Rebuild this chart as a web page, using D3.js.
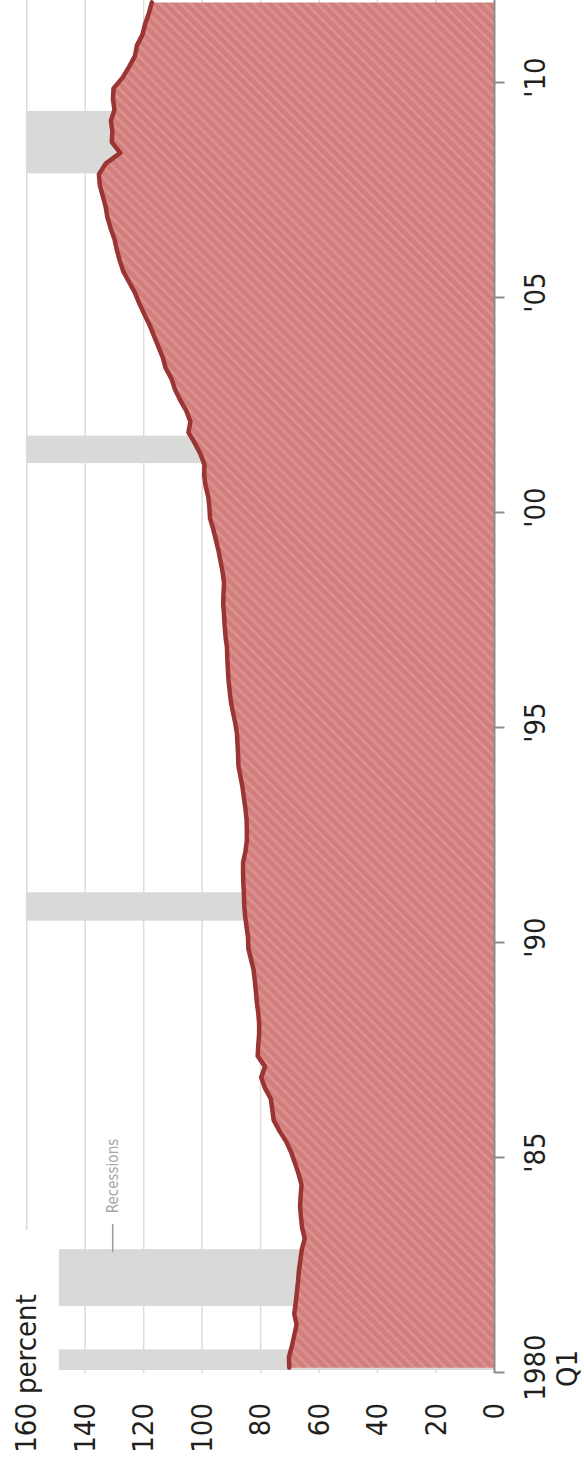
<!DOCTYPE html>
<html>
<head>
<meta charset="utf-8">
<script src="https://cdn.jsdelivr.net/npm/d3@7"></script>
<style>
  body { margin: 0; background: #fff; }
  text { font-family: "Liberation Sans Narrow", "DejaVu Sans Condensed", "Arial Narrow", sans-serif; }
</style>
</head>
<body>
<div id="chart"></div>
<script>
// Debt as a share of income, quarterly from 1980 Q1 to 2011 Q4 (percent)
const startYear = 1980;
const debtRatio = [
  70.2, 70.3, 69.3, 68.5,   67.7, 68.5, 68.0, 67.6,   67.2, 66.9, 66.4, 65.9,
  64.9, 65.8, 66.2, 66.5,   66.3, 66.0, 67.0, 68.2,   69.5, 71.2, 73.5, 75.5,
  76.0, 76.5, 78.5, 79.8,   78.5, 81.0, 80.8, 80.5,   80.5, 80.8, 81.3, 81.6,
  82.0, 82.4, 83.3, 84.2,   84.3, 84.8, 85.3, 85.6,   85.7, 85.9, 86.0, 86.0,
  85.2, 84.7, 84.7, 84.8,   85.2, 85.7, 86.2, 86.9,   87.6, 87.7, 87.9, 88.1,
  88.7, 89.5, 90.2, 90.6,   91.0, 91.2, 91.4, 91.5,   92.0, 92.3, 92.5, 92.8,
  92.7, 92.5, 93.0, 93.7,   94.4, 95.3, 96.2, 97.3,   97.5, 97.9, 98.8, 99.3,
  99.2, 100.6, 102.5, 104.7, 104.0, 105.4, 107.5, 109.3, 110.5, 112.5, 113.5, 115.0,
  116.5, 118.0, 119.8, 121.5, 123.0, 125.0, 127.0, 128.2, 129.2, 130.0, 131.3, 132.4,
  133.0, 134.0, 135.0, 135.3, 133.0, 128.0, 130.9, 130.7, 131.2, 130.0, 130.5, 130.3,
  127.2, 125.0, 123.0, 122.3, 120.4, 119.5, 118.2, 117.2
];

// recessions (decimal years)
const recessionStart = [1980.07, 1981.56, 1990.52, 2001.16, 2007.9];
const recessionEnd   = [1980.55, 1982.88, 1991.18, 2001.8, 2009.35];

const valueTicks = [0, 20, 40, 60, 80, 100, 120, 140, 160];
const yearTicks = [1980, 1985, 1990, 1995, 2000, 2005, 2010];
const yearLabels = ["1980", "'85", "'90", "'95", "'00", "'05", "'10"];
const firstQuarterLabel = "Q1";
const unitLabel = "percent";
const recessionLabel = "Recessions";

// page size; the chart is drawn sideways, so the inner frame is pageH wide
const pageW = 584;
const pageH = 1458;
const fontSize = 29;

const svg = d3.select("#chart")
  .append("svg")
  .attr("width", pageW)
  .attr("height", pageH);

// stripes for the area
const stripe = 7.4;
const defs = svg.append("defs");
const pat = defs.append("pattern")
  .attr("id", "stripes")
  .attr("patternUnits", "userSpaceOnUse")
  .attr("width", stripe)
  .attr("height", stripe)
  .attr("patternTransform", "rotate(45)");
pat.append("rect").attr("width", stripe).attr("height", stripe).attr("fill", "#d27e7c");
pat.append("rect").attr("x", 0.5).attr("width", 2.6).attr("height", stripe).attr("fill", "#db9391");

// rotate the whole chart a quarter turn
const g = svg.append("g")
  .attr("transform", `translate(0,${pageH}) rotate(-90)`);

const x = d3.scaleLinear()
  .domain([1980, 2010])
  .range([85, 1375]);

const y = d3.scaleLinear()
  .domain([0, 160])
  .range([494.5, 26.7]);

const data = debtRatio.map((v, i) => ({t: startYear + (i + 0.5) / 4, v: v}));

// gridlines
g.selectAll(".grid")
  .data(valueTicks.filter(d => d > 0))
  .enter()
  .append("line")
    .attr("class", "grid")
    .attr("x1", d => d === 160 ? 228 : x(1980))
    .attr("x2", pageH)
    .attr("y1", d => y(d))
    .attr("y2", d => y(d))
    .attr("stroke", "#dcdcdc")
    .attr("stroke-width", 1.5);

// recession bars (the first two are cut short to clear the unit label)
g.selectAll(".recession")
  .data(recessionStart.map((s, i) => ({s: s, e: recessionEnd[i]})))
  .enter()
  .append("rect")
    .attr("class", "recession")
    .attr("x", d => x(d.s))
    .attr("width", d => x(d.e) - x(d.s))
    .attr("y", d => d.s < 1985 ? y(149) : y(160))
    .attr("height", d => y(0) - (d.s < 1985 ? y(149) : y(160)))
    .attr("fill", "#d9d9d8");

// recession label with leader
g.append("line")
  .attr("x1", x(recessionEnd[1]) - 3)
  .attr("x2", x(recessionEnd[1]) + 25)
  .attr("y1", 112.7)
  .attr("y2", 112.7)
  .attr("stroke", "#9a9a9a")
  .attr("stroke-width", 1.5);

g.append("text")
  .attr("x", x(recessionEnd[1]) + 36)
  .attr("y", 118)
  .attr("font-size", 15)
  .attr("fill", "#a8a8a8")
  .text(recessionLabel);

// area + line
const area = d3.area()
  .x(d => x(d.t))
  .y0(y(0))
  .y1(d => y(d.v));

const line = d3.line()
  .x(d => x(d.t))
  .y(d => y(d.v));

g.append("path")
  .datum(data)
  .attr("d", area)
  .attr("fill", "url(#stripes)");

g.append("path")
  .datum(data)
  .attr("d", line)
  .attr("fill", "none")
  .attr("stroke", "#9b3533")
  .attr("stroke-width", 4.5)
  .attr("stroke-linejoin", "round")
  .attr("stroke-linecap", "round");

// time axis
g.append("line")
  .attr("x1", x(1980))
  .attr("x2", pageH)
  .attr("y1", y(0))
  .attr("y2", y(0))
  .attr("stroke", "#8c8c8c")
  .attr("stroke-width", 2);

const xAxis = g.append("g")
  .attr("transform", `translate(0,${y(0)})`)
  .call(d3.axisBottom(x)
    .tickValues(yearTicks)
    .tickSize(10)
    .tickFormat((d, i) => yearLabels[i]));

xAxis.select(".domain").remove();
xAxis.selectAll(".tick line").attr("stroke", "#8c8c8c").attr("stroke-width", 2);
xAxis.selectAll(".tick text")
  .attr("y", 50)
  .attr("dy", 0)
  .attr("x", 5)
  .attr("font-size", fontSize)
  .attr("font-family", null)
  .attr("fill", "#231f20");

xAxis.select(".tick text")
  .append("tspan")
  .attr("x", 4)
  .attr("dy", 32)
  .text(firstQuarterLabel);

// value axis labels
const yAxis = g.append("g")
  .attr("transform", "translate(55,0)")
  .call(d3.axisLeft(y)
    .tickValues(valueTicks)
    .tickSize(0)
    .tickPadding(0));

yAxis.select(".domain").remove();
yAxis.selectAll(".tick text")
  .attr("font-size", fontSize)
  .attr("font-family", null)
  .attr("fill", "#231f20");

g.append("text")
  .attr("x", 64)
  .attr("y", y(160))
  .attr("dy", "0.32em")
  .attr("font-size", fontSize)
  .attr("fill", "#231f20")
  .text(unitLabel);
</script>
</body>
</html>
